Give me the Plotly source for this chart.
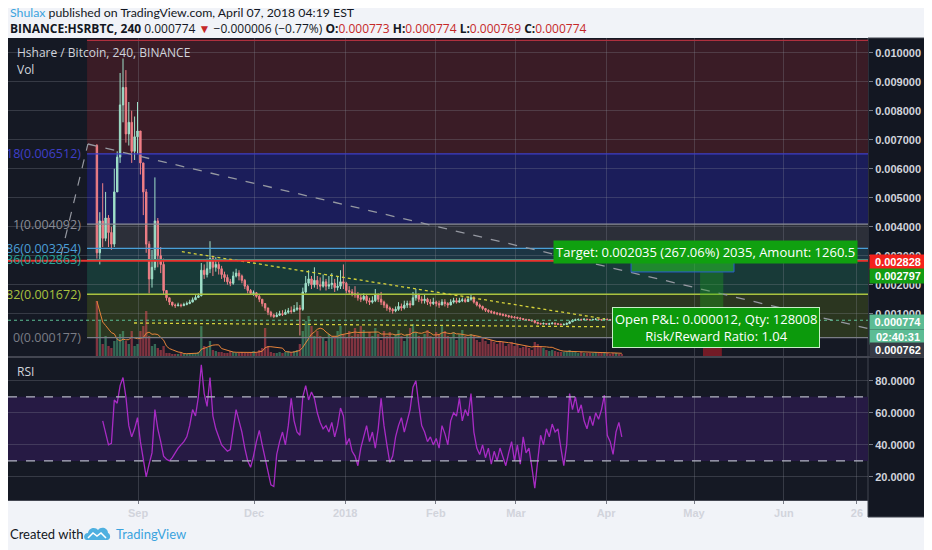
import pandas as pd
import plotly.graph_objects as go

# bar index on the (compressed) TradingView time scale, ~1 unit per day
first_bar = 31
first_open = 6800

# HSR/BTC prices in uBTC (1e-6 BTC)
closes = [3100, 4200, 3600, 4300, 3800, 3400, 5200, 6400, 8200, 8800,
          7200, 7600, 6600, 7100, 7300, 6200, 5200, 3400, 2200, 2600,
          4200, 3000, 2700, 1800, 1550, 1400, 1300, 1280, 1300, 1280,
          1320, 1350, 1400, 1480, 1560, 1620, 2500, 2350, 2550, 2900,
          2600, 2700, 2550, 2350, 2250, 2100, 2050, 2300, 2400, 2300,
          2150, 1950, 1800, 1700, 1720, 1600, 1500, 1350, 1200, 1050,
          950, 900, 950, 1000, 980, 1050, 1100, 1080, 1150, 1200,
          1150, 1750, 2050, 2200, 2000, 2150, 2000, 1950, 2100, 1950,
          2000, 2050, 1900, 1950, 2100, 2050, 1800, 1750, 1700, 1650,
          1550, 1500, 1600, 1450, 1400, 1450, 1650, 1500, 1400, 1300,
          1200, 1150, 1100, 1150, 1250, 1200, 1300, 1350, 1300, 1550,
          1650, 1500, 1450, 1500, 1400, 1350, 1400, 1350, 1300, 1400,
          1350, 1300, 1400, 1450, 1400, 1450, 1480, 1420, 1500, 1550,
          1400, 1300, 1250, 1180, 1120, 1080, 1050, 1020, 1000, 980,
          950, 930, 900, 880, 870, 850, 830, 800, 790, 780,
          760, 700, 660, 650, 660, 640, 650, 670, 650, 640,
          620, 630, 660, 720, 770, 790, 800, 790, 810, 800,
          790, 800, 810, 800, 790, 810, 800, 780, 770, 780,
          775, 774]
highs = [6850, 4500, 5500, 5200, 4400, 4000, 6000, 6600, 9300, 9800,
         9400, 8300, 8000, 7800, 8300, 7000, 6200, 5300, 3500, 3200,
         5700, 4300, 3300, 2900, 1800, 1550, 1400, 1350, 1380, 1350,
         1380, 1420, 1480, 1560, 1640, 1700, 2750, 2700, 2900, 3500,
         3000, 2950, 2800, 2650, 2450, 2350, 2200, 2450, 2550, 2500,
         2350, 2200, 2000, 1850, 1800, 1750, 1650, 1500, 1350, 1200,
         1100, 1000, 1050, 1100, 1120, 1150, 1200, 1250, 1300, 1400,
         1300, 1900, 2300, 2500, 2300, 2600, 2300, 2250, 2350, 2200,
         2300, 2400, 2200, 2300, 2500, 2700, 2100, 1950, 1850, 1950,
         1750, 1650, 1700, 1650, 1550, 1600, 1850, 1700, 1750, 1450,
         1350, 1250, 1200, 1250, 1400, 1350, 1450, 1450, 1450, 1750,
         1850, 1700, 1600, 1650, 1550, 1500, 1550, 1450, 1450, 1500,
         1500, 1400, 1500, 1550, 1550, 1550, 1560, 1550, 1600, 1650,
         1600, 1420, 1350, 1280, 1200, 1150, 1120, 1090, 1060, 1040,
         1010, 990, 960, 940, 920, 900, 880, 850, 830, 820,
         800, 760, 720, 690, 700, 680, 690, 710, 700, 680,
         660, 670, 700, 760, 810, 830, 840, 830, 840, 830,
         820, 830, 850, 830, 820, 850, 830, 820, 800, 810,
         800, 790]
lows = [2900, 2700, 3300, 3500, 3300, 3200, 3300, 5200, 6200, 7600,
        6900, 6800, 6200, 6300, 6500, 5800, 4400, 3100, 1700, 1900,
        2500, 2600, 2400, 1650, 1450, 1300, 1250, 1200, 1250, 1220,
        1260, 1290, 1330, 1420, 1480, 1540, 1600, 2200, 2250, 2400,
        2300, 2450, 2350, 2200, 2100, 2000, 1950, 2000, 2250, 2150,
        2050, 1850, 1700, 1650, 1620, 1550, 1400, 1250, 1100, 950,
        880, 850, 880, 920, 920, 960, 1000, 1000, 1050, 1100,
        250, 1100, 1700, 1950, 1850, 1900, 1850, 1800, 1900, 1800,
        1850, 1850, 1750, 1800, 1850, 1850, 1700, 1650, 1600, 1550,
        1450, 1400, 1450, 1350, 1300, 1350, 1400, 1400, 1300, 1200,
        1100, 1050, 1000, 1050, 1100, 1100, 1150, 1200, 1200, 1300,
        1450, 1400, 1350, 1350, 1300, 1250, 1300, 1250, 1200, 1300,
        1250, 1200, 1300, 1350, 1350, 1380, 1400, 1380, 1400, 1450,
        1350, 1250, 1180, 1120, 1060, 1030, 1000, 980, 950, 930,
        910, 890, 860, 840, 830, 810, 790, 770, 760, 750,
        720, 660, 630, 620, 630, 610, 620, 640, 620, 610,
        600, 600, 630, 660, 720, 760, 770, 760, 780, 770,
        760, 770, 780, 770, 760, 780, 770, 750, 740, 750,
        750, 760]
volume_k = [550, 350, 120, 200, 100, 80, 150, 180, 220, 250,
            150, 120, 250, 100, 120, 250, 300, 450, 200, 100,
            120, 80, 60, 100, 30, 30, 20, 20, 20, 30,
            20, 20, 30, 30, 30, 40, 300, 100, 80, 150,
            60, 50, 40, 40, 30, 30, 50, 40, 30, 30,
            40, 30, 30, 40, 50, 40, 60, 80, 280, 100,
            40, 30, 30, 40, 30, 40, 50, 40, 50, 60,
            120, 250, 350, 400, 300, 200, 250, 200, 180, 150,
            220, 180, 200, 250, 300, 220, 180, 250, 200, 280,
            220, 300, 260, 180, 240, 200, 280, 220, 160, 250,
            200, 240, 180, 220, 260, 200, 150, 220, 280, 320,
            240, 200, 180, 220, 260, 200, 180, 240, 220, 300,
            250, 200, 180, 240, 160, 220, 260, 200, 180, 220,
            200, 160, 140, 180, 150, 120, 160, 140, 120, 150,
            140, 100, 120, 140, 100, 120, 80, 90, 100, 80,
            60, 140, 120, 100, 80, 60, 50, 60, 50, 40,
            40, 40, 50, 60, 50, 40, 30, 40, 30, 30,
            30, 30, 40, 30, 30, 40, 30, 20, 30, 30,
            20, 20]

rsi_first = 33
rsi = [55, 48, 40, 41, 68, 66, 77, 82, 70, 52,
       45, 50, 57, 42, 32, 20, 28, 35, 62, 50,
       42, 33, 31, 30, 32, 35, 38, 40, 42, 45,
       52, 62, 58, 70, 90, 72, 64, 82, 58, 50,
       45, 40, 38, 36, 37, 50, 62, 55, 48, 38,
       30, 26, 33, 42, 49, 40, 32, 22, 15, 14,
       34, 42, 48, 40, 52, 69, 55, 48, 46, 70,
       77, 68, 73, 69, 60, 54, 50, 52, 48, 54,
       45, 52, 63, 58, 40, 44, 36, 33, 27, 38,
       45, 52, 42, 48, 38, 50, 69, 52, 40, 29,
       33, 45, 52, 57, 48, 55, 62, 76, 80, 65,
       52, 48, 42, 45, 40, 44, 38, 52, 47, 40,
       55, 60, 58, 69, 55, 62, 58, 72, 48, 38,
       34, 40, 32, 38, 28, 36, 30, 38, 33, 27,
       35, 42, 30, 40, 28, 45, 35, 38, 26, 13,
       30, 46, 40, 50, 45, 53, 48, 50, 38, 27,
       40, 72, 62, 70, 60, 65, 55, 50, 58, 52,
       60, 56, 62, 71, 46, 42, 34, 48, 54, 45]

tick_pos = [45.2, 85.2, 116.6, 147.9, 175.5, 206.6, 236.9, 267.9, 293.1]
tick_text = ['Sep', 'Dec', '2018', 'Feb', 'Mar', 'Apr', 'May', 'Jun', '26']

price_ticks = [0.001, 0.002, 0.003, 0.004, 0.005, 0.006, 0.007, 0.008, 0.009, 0.010]

# fib retracement drawing (uBTC)
fib_prices = [177, 1672, 2863, 3254, 4092, 6512, 10428]
fib_labels = ['0(0.000177)', '82(0.001672)', '36(0.002863)', '86(0.003254)',
              '1(0.004092)', '18(0.006512)', '']
fib_lines = ['#7a7d86', '#a9c23f', '#26a69a', '#4a9fd8', '#8a8d96', '#3f3fc8', '#b0303e']
fib_zones = ['#2b3620', '#183a38', '#1c3544', '#2c2f39', '#1b1d5a', '#3a1c26']
fib_start = 27.6

# other drawings: [x0, x1], [p0, p1] in uBTC
long_trend_x, long_trend_p = [27.9, 297], [6852, 487]
fib_trend_x, fib_trend_p = [18.6, 27.9], [3000, 6852]
tri_top_x, tri_top_p = [60.3, 206.2], [3138, 820]
tri_bot_x, tri_bot_p = [43.8, 206.2], [680, 550]
stop_price = 2828
last_price = 774

n = len(closes)
x = list(range(first_bar, first_bar + n))
opens = [first_open] + closes[:-1]
hi = [max(h, o, c) for h, o, c in zip(highs, opens, closes)]
lo = [min(l, o, c) for l, o, c in zip(lows, opens, closes)]
df = pd.DataFrame({'x': x, 'open': opens, 'high': hi, 'low': lo, 'close': closes, 'vol': volume_k})
for col in ['open', 'high', 'low', 'close']:
    df[col] = df[col] * 1e-6
df['vol_ma'] = df['vol'].rolling(7, min_periods=1).mean()
vol_colors = ['rgba(83,185,135,0.5)' if c >= o else 'rgba(235,77,92,0.5)'
              for o, c in zip(opens, closes)]
rsi_x = list(range(rsi_first, rsi_first + len(rsi)))

X0, X1 = 0.345, 296.9


# screenshot pixel -> paper (page has an 8px body margin)
def pxx(p):
    return (p - 8) / 860


def pxy(p):
    return (517 - p) / 479


fig = go.Figure()
fig.add_trace(go.Candlestick(
    x=df['x'], open=df['open'], high=df['high'], low=df['low'], close=df['close'],
    increasing=dict(line=dict(color='#9fe0c9', width=1), fillcolor='#9fe0c9'),
    decreasing=dict(line=dict(color='#f07f86', width=1), fillcolor='#f07f86'),
    whiskerwidth=0, xaxis='x', yaxis='y'))
fig.add_trace(go.Bar(x=df['x'], y=df['vol'], marker=dict(color=vol_colors, line_width=0),
                     width=0.8, xaxis='x', yaxis='y3'))
fig.add_trace(go.Scatter(x=df['x'], y=df['vol_ma'], mode='lines',
                         line=dict(color='#e8843a', width=1), xaxis='x', yaxis='y3'))
fig.add_trace(go.Scatter(x=rsi_x, y=rsi, mode='lines',
                         line=dict(color='#a82bc4', width=1.3), xaxis='x2', yaxis='y2'))

shapes = []
for i, col in enumerate(fib_zones):
    shapes.append(dict(type='rect', xref='x', yref='y', x0=fib_start, x1=X1,
                       y0=fib_prices[i] * 1e-6, y1=fib_prices[i + 1] * 1e-6,
                       fillcolor=col, line_width=0, layer='below'))
for p, col in zip(fib_prices, fib_lines):
    shapes.append(dict(type='line', xref='x', yref='y', x0=fib_start, x1=X1,
                       y0=p * 1e-6, y1=p * 1e-6, line=dict(color=col, width=1.3)))
shapes.append(dict(type='line', xref='x', yref='y', x0=long_trend_x[0], x1=long_trend_x[1],
                   y0=long_trend_p[0] * 1e-6, y1=long_trend_p[1] * 1e-6,
                   line=dict(color='#9598a1', width=1.3, dash='dash')))
shapes.append(dict(type='line', xref='x', yref='y', x0=fib_trend_x[0], x1=fib_trend_x[1],
                   y0=fib_trend_p[0] * 1e-6, y1=fib_trend_p[1] * 1e-6,
                   line=dict(color='#9598a1', width=1.2, dash='dash')))
for tx, tp in [(tri_top_x, tri_top_p), (tri_bot_x, tri_bot_p)]:
    shapes.append(dict(type='line', xref='x', yref='y', x0=tx[0], x1=tx[1],
                       y0=tp[0] * 1e-6, y1=tp[1] * 1e-6,
                       line=dict(color='#d6d23a', width=1.3, dash='dot')))
shapes.append(dict(type='line', xref='x', yref='y', x0=X0, x1=X1,
                   y0=stop_price * 1e-6, y1=stop_price * 1e-6, line=dict(color='#e8332e', width=2)))
shapes.append(dict(type='line', xref='x', yref='y', x0=X0, x1=X1,
                   y0=last_price * 1e-6, y1=last_price * 1e-6,
                   line=dict(color='#5cbf94', width=1.2, dash='dot')))
# long position tool
shapes.append(dict(type='rect', xref='x', yref='y', x0=239, x1=247, y0=0.0001, y1=0.00244,
                   fillcolor='rgba(30,170,30,0.35)', line_width=0))
shapes.append(dict(type='rect', xref='x', yref='y', x0=240, x1=246.5, y0=-0.00046, y1=0.0001,
                   fillcolor='rgba(210,30,40,0.5)', line_width=0))
# RSI band
shapes.append(dict(type='rect', xref='x2', yref='y2', x0=X0, x1=X1, y0=30, y1=70,
                   fillcolor='#261a44', line_width=0, layer='below'))
for lvl in [30, 70]:
    shapes.append(dict(type='line', xref='x2', yref='y2', x0=X0, x1=X1, y0=lvl, y1=lvl,
                       line=dict(color='#b4b6c4', width=1.2, dash='dash')))
# pane separator, right axis block
shapes.append(dict(type='line', xref='paper', yref='paper', x0=0, x1=pxx(926), y0=pxy(357), y1=pxy(357),
                   line=dict(color='#434651', width=2)))
shapes.append(dict(type='rect', xref='paper', yref='paper', x0=1, x1=pxx(926), y0=0, y1=1,
                   fillcolor='#131722', line=dict(color='#434651', width=1), layer='below'))
# TradingView logo
shapes.append(dict(type='path', xref='paper', yref='paper', xsizemode='pixel', ysizemode='pixel',
                   xanchor=pxx(97), yanchor=pxy(535),
                   path='M-10,-5 C-14,-5 -14,2 -9,2 C-8,8 -1,8 1,5 C4,9 11,7 11,2 C14,1 14,-5 10,-5 Z',
                   fillcolor='#4fb0e0', line_width=0))
shapes.append(dict(type='path', xref='paper', yref='paper', xsizemode='pixel', ysizemode='pixel',
                   xanchor=pxx(97), yanchor=pxy(535),
                   path='M-9,-3 L-4,2 L0,-1 L4,2 L9,-3', line=dict(color='white', width=1.5)))
# target box of the position tool (drawn over the label)
target_box = dict(type='rect', xref='x', yref='y', x0=215.2, x1=250.7, y0=0.00244, y1=0.00313,
                  fillcolor='rgba(40,200,40,0.55)', line=dict(color='#2a5bd0', width=1))

annotations = []
for p, lab, col in zip(fib_prices, fib_labels, fib_lines):
    if lab:
        annotations.append(dict(xref='paper', yref='y', x=pxx(83), y=p * 1e-6, text=lab,
                                xanchor='right', yanchor='middle', showarrow=False,
                                font=dict(size=12.5, color=col)))
annotations += [
    dict(xref='paper', yref='paper', x=0, y=pxy(12.5), xanchor='left', yanchor='middle', showarrow=False,
         text="<span style='color:#3ba3de'>Shulax</span> published on TradingView.com, April 07, 2018 04:19 EST",
         font=dict(size=12.3, color='#131722', family='Lato')),
    dict(xref='paper', yref='paper', x=0, y=pxy(28.5), xanchor='left', yanchor='middle', showarrow=False,
         text="<b>BINANCE:HSRBTC, 240</b> 0.000774 <span style='color:#c62828'>▼</span> −0.000006 (−0.77%) "
              "<b>O:</b><span style='color:#c62828'>0.000773</span> <b>H:</b><span style='color:#c62828'>0.000774</span> "
              "<b>L:</b><span style='color:#c62828'>0.000769</span> <b>C:</b><span style='color:#c62828'>0.000774</span>",
         font=dict(size=12, color='#131722')),
    dict(xref='paper', yref='paper', x=pxx(15), y=pxy(53), xanchor='left', yanchor='middle', showarrow=False,
         text='Hshare / Bitcoin, 240, BINANCE', font=dict(size=12, color='#d1d4dc')),
    dict(xref='paper', yref='paper', x=pxx(15), y=pxy(69), xanchor='left', yanchor='middle', showarrow=False,
         text='Vol', font=dict(size=12, color='#d1d4dc')),
    dict(xref='paper', yref='paper', x=pxx(15), y=pxy(371), xanchor='left', yanchor='middle', showarrow=False,
         text='RSI', font=dict(size=12, color='#d1d4dc')),
    dict(xref='paper', yref='paper', x=pxx(553), y=pxy(251.5), xanchor='left', yanchor='middle', showarrow=False,
         text='Target: 0.002035 (267.06%) 2035, Amount: 1260.5', bgcolor='#10a010', borderpad=2,
         font=dict(size=13, color='white')),
    dict(xref='paper', yref='paper', x=pxx(715.5), y=pxy(327), xanchor='center', yanchor='middle', showarrow=False,
         text='Open P&L: 0.000012, Qty: 128008<br>Risk/Reward Ratio: 1.04', bgcolor='#0c9a0c',
         bordercolor='#c8efc8', borderwidth=1, borderpad=2, font=dict(size=13, color='white')),
    dict(xref='paper', yref='paper', x=0, y=pxy(534), xanchor='left', yanchor='middle', showarrow=False,
         text='Created with', font=dict(size=13, color='#131722', family='Lato')),
    dict(xref='paper', yref='paper', x=pxx(114), y=pxy(534), xanchor='left', yanchor='middle', showarrow=False,
         text='TradingView', font=dict(size=13, color='#3ba3de', family='Lato')),
]
for ypix, txt, bg in [(261.5, '0.002828', '#f5211c'), (276, '0.002797', '#139c13'),
                      (321.7, '0.000774', '#5cbc94'), (337, '02:40:31', '#5cbc94'),
                      (350, '0.000762', '#363a45')]:
    annotations.append(dict(xref='paper', yref='paper', x=pxx(869), y=pxy(ypix), xanchor='left',
                            yanchor='middle', showarrow=False, text=txt, bgcolor=bg, borderpad=1,
                            width=54, font=dict(size=11, color='white', family='Liberation Sans', weight='bold')))

grid = 'rgba(140,143,155,0.28)'
axfont = dict(size=11, color='#d1d4dc', family='Liberation Sans', weight='bold')
fig.update_layout(
    width=924, height=542,
    margin=dict(l=0, r=64, t=30, b=33),
    paper_bgcolor='#f1f3f8', plot_bgcolor='#151924',
    showlegend=False,
    font=dict(family='Open Sans', color='#d1d4dc'),
    shapes=shapes + [target_box],
    annotations=annotations,
    xaxis=dict(domain=[0, 1], anchor='y', range=[X0, X1], tickvals=tick_pos, showticklabels=False,
               showgrid=True, gridcolor=grid, zeroline=False, rangeslider=dict(visible=False)),
    xaxis2=dict(domain=[0, 1], anchor='y2', matches='x', range=[X0, X1], tickvals=tick_pos,
                ticktext=tick_text, showgrid=True, gridcolor=grid, zeroline=False,
                showline=True, linecolor='#434651', ticks='outside', ticklen=3, tickcolor='#787b86',
                tickfont=axfont),
    yaxis=dict(domain=[pxy(356), 1], range=[-0.000458, 0.010507], side='right',
               tickvals=price_ticks, ticktext=['%.6f' % v for v in price_ticks],
               showgrid=True, gridcolor=grid, zeroline=False, ticks='outside', ticklen=4,
               tickcolor='#787b86', tickfont=axfont),
    yaxis2=dict(domain=[pxy(500), pxy(358)], range=[5.6, 94.2], side='right',
                tickvals=[20, 40, 60, 80], ticktext=['20.0000', '40.0000', '60.0000', '80.0000'],
                showgrid=True, gridcolor=grid, zeroline=False, ticks='outside', ticklen=4,
                tickcolor='#787b86', tickfont=axfont),
    yaxis3=dict(overlaying='y', range=[0, 3180], visible=False),
)
fig.write_html("out.html")
